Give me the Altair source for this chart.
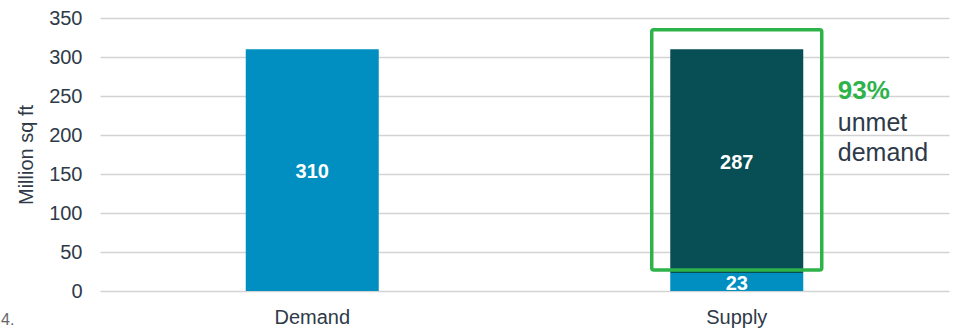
import altair as alt
import pandas as pd

# Chart values
categories = ["Demand", "Supply", "Supply"]
segments = ["Demand", "Met", "Unmet"]
seg_start = [0, 0, 23]
seg_end = [310, 23, 310]
seg_labels = ["310", "23", "287"]
y_ticks = [0, 50, 100, 150, 200, 250, 300, 350]

LIGHT_BLUE = "#008FC0"
DARK_TEAL = "#084F55"
GREEN = "#2DB34A"
TEXT = "#2E3A48"
FONT = "Liberation Sans"
ORDER = ["Demand", "Supply"]

bars_df = pd.DataFrame({
    "category": categories,
    "segment": segments,
    "start": seg_start,
    "end": seg_end,
    "label": seg_labels,
})
bars_df["mid"] = (bars_df["start"] + bars_df["end"]) / 2

x_axis = alt.Axis(title=None, labelAngle=0, ticks=False, domain=False,
                  labelFontSize=20, labelColor=TEXT, labelFont=FONT,
                  labelPadding=16, grid=False)
y_axis = alt.Axis(title="Million sq ft", values=y_ticks,
                  ticks=False, domain=False, labelFontSize=20,
                  labelOverlap=False,
                  labelColor=TEXT, labelFont=FONT, labelPadding=18,
                  titleFontSize=20, titleFontWeight="normal",
                  titleColor=TEXT, titleFont=FONT, titlePadding=12,
                  gridColor="#D3D3D3", gridWidth=1.5)
x_scale = alt.Scale(domain=ORDER, paddingInner=0, paddingOuter=0)
y_scale = alt.Scale(domain=[0, 350], nice=False)


def xe():
    return alt.X("category:N", sort=ORDER, scale=x_scale, axis=x_axis)


def ye(field):
    return alt.Y(field, scale=y_scale, axis=y_axis)


bars = alt.Chart(bars_df).mark_bar(size=133).encode(
    x=xe(),
    y=ye("start:Q"),
    y2="end:Q",
    color=alt.Color("segment:N",
                    scale=alt.Scale(domain=["Demand", "Met", "Unmet"],
                                    range=[LIGHT_BLUE, LIGHT_BLUE, DARK_TEAL]),
                    legend=None),
)

values = alt.Chart(bars_df).mark_text(
    color="white", fontSize=20, fontWeight="bold", font=FONT, baseline="middle", dy=2
).encode(
    x=xe(),
    y=ye("mid:Q"),
    text="label:N",
)

# Highlight box around the unmet part of supply
box_df = pd.DataFrame({"category": ["Supply"], "lo": [27], "hi": [335]})
box = alt.Chart(box_df).mark_bar(
    size=170, fill=None, stroke=GREEN, strokeWidth=3.5, cornerRadius=2
).encode(
    x=xe(),
    y=ye("lo:Q"),
    y2="hi:Q",
)

# Callout next to the box
pct_df = pd.DataFrame({"category": ["Supply"], "y": [256], "text": ["93%"]})
pct = alt.Chart(pct_df).mark_text(
    align="left", baseline="middle", dx=101, font=FONT, fontSize=26,
    fontWeight="bold", color=GREEN
).encode(
    x=xe(),
    y=ye("y:Q"),
    text="text:N",
)

note_text = ["unmet", "demand"]
note_y = [215, 177]
note_df = pd.DataFrame({"category": ["Supply"] * 2, "y": note_y, "text": note_text})
note = alt.Chart(note_df).mark_text(
    align="left", baseline="middle", dx=101, font=FONT, fontSize=25, color=TEXT
).encode(
    x=xe(),
    y=ye("y:Q"),
    text="text:N",
)

footnote = alt.Chart(pd.DataFrame({"t": ["4."]})).mark_text(
    align="left", baseline="middle", fontSize=16, font=FONT, color="#666666"
).encode(x=alt.value(-99), y=alt.value(302), text="t:N")

chart = alt.layer(bars, values, box, pct, note, footnote).properties(
    width=849, height=273,
    autosize=alt.AutoSizeParams(type="none"),
    padding={"left": 100, "top": 18, "right": 12, "bottom": 40},
).configure_view(stroke=None)

chart.save("out.html", embed_options={"renderer": "svg", "actions": False})
